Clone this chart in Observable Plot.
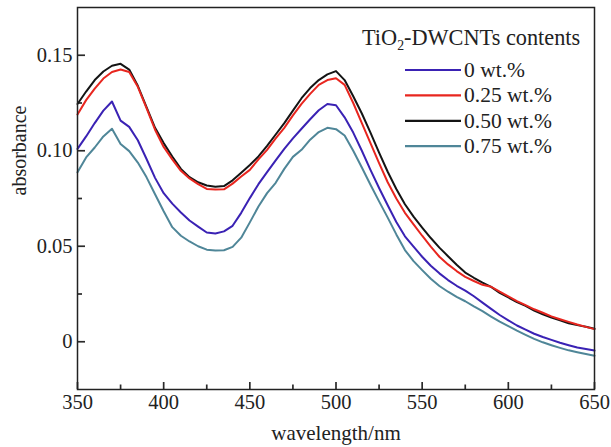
<!DOCTYPE html>
<html>
<head>
<meta charset="utf-8">
<script src="https://cdn.jsdelivr.net/npm/d3@7"></script>
<script src="https://cdn.jsdelivr.net/npm/@observablehq/plot@0.6"></script>
<style>
  body { margin: 0; background: #fff; }
  #wrap { position: relative; width: 611px; height: 447px; }
  #legend { position: absolute; left: 0; top: 0; pointer-events: none; }
  text { font-family: "Liberation Serif", "Times New Roman", serif; }
</style>
</head>
<body>
<div id="wrap"></div>
<script>
// ---- data ----
const wavelengths = [350,355,360,365,370,375,380,385,390,395,400,405,410,415,420,425,430,435,440,445,450,455,460,465,470,475,480,485,490,495,500,505,510,515,520,525,530,535,540,545,550,555,560,565,570,575,580,585,590,595,600,605,610,615,620,625,630,635,640,645,650];

const series0 = [0.101,0.1075,0.1145,0.121,0.1258,0.1158,0.1125,0.1055,0.0958,0.0858,0.0778,0.0723,0.0677,0.0635,0.0603,0.0572,0.0567,0.0578,0.0607,0.0675,0.0752,0.0825,0.0888,0.0950,0.1010,0.1065,0.1115,0.1165,0.1212,0.1245,0.1238,0.1175,0.1095,0.1000,0.0900,0.0805,0.0715,0.0627,0.0552,0.0498,0.0445,0.0398,0.0358,0.0323,0.0293,0.0268,0.0238,0.0205,0.0172,0.0140,0.0112,0.0085,0.0063,0.0042,0.0025,0.0010,-0.0005,-0.0018,-0.0030,-0.0038,-0.0046];

const series025 = [0.119,0.1265,0.1325,0.1378,0.1412,0.1425,0.1412,0.1335,0.1225,0.111,0.102,0.0955,0.0895,0.0855,0.0825,0.0800,0.0797,0.0798,0.0828,0.0865,0.0900,0.0955,0.1005,0.1065,0.1120,0.1185,0.1245,0.1298,0.1345,0.1370,0.1380,0.1345,0.1250,0.1145,0.1040,0.0935,0.0835,0.0750,0.0675,0.0615,0.0555,0.0498,0.0445,0.0405,0.0370,0.0340,0.0318,0.0298,0.0288,0.0262,0.0238,0.0213,0.0192,0.0170,0.0152,0.0133,0.0118,0.0104,0.0090,0.0078,0.0066];

const series050 = [0.1245,0.131,0.137,0.1415,0.1445,0.1455,0.1425,0.134,0.123,0.112,0.104,0.097,0.0905,0.0862,0.0835,0.0818,0.0812,0.0815,0.0845,0.0885,0.0925,0.0970,0.1025,0.1085,0.1145,0.1210,0.1275,0.1328,0.1370,0.1400,0.1417,0.1370,0.1285,0.1195,0.1095,0.0990,0.0890,0.0800,0.0720,0.0655,0.0598,0.0543,0.0493,0.0448,0.0403,0.0362,0.0335,0.0310,0.0287,0.0256,0.0232,0.0208,0.0188,0.0163,0.0144,0.0127,0.0112,0.0097,0.0087,0.0078,0.0068];

const series075 = [0.0887,0.0965,0.1017,0.1075,0.1115,0.1035,0.0998,0.0938,0.0862,0.0772,0.0683,0.0600,0.0555,0.0525,0.0500,0.0482,0.0478,0.0479,0.0497,0.0545,0.0625,0.0708,0.0778,0.0832,0.0905,0.0968,0.1005,0.1058,0.1098,0.1120,0.1113,0.1080,0.1000,0.0912,0.0822,0.0735,0.0650,0.0562,0.0480,0.0422,0.0375,0.0330,0.0292,0.0262,0.0235,0.0212,0.0185,0.0160,0.0132,0.0105,0.0082,0.0058,0.0036,0.0015,-0.0003,-0.0018,-0.0032,-0.0045,-0.0055,-0.0064,-0.0073];

const seriesNames = ["0 wt.%", "0.25 wt.%", "0.50 wt.%", "0.75 wt.%"];
const seriesColors = ["#3a22b4", "#e8261f", "#141414", "#4f8698"];
const seriesValues = [series0, series025, series050, series075];
const drawOrder = [3, 0, 2, 1];

const xMajorTicks = [350,400,450,500,550,600,650];
const xMinorTicks = [375,425,475,525,575,625];
const yMajorTicks = [0, 0.05, 0.10, 0.15];
const yMinorTicks = [0.025, 0.075, 0.125];
const yTickLabels = ["0", "0.05", "0.10", "0.15"];

const xLabel = "wavelength/nm";
const yLabel = "absorbance";
const legendTitle = ["TiO", "2", "-DWCNTs contents"];

// ---- chart ----
const W = 611, H = 447;
const mL = 77, mR = 17, mT = 7, mB = 58;
const plotW = W - mL - mR, plotH = H - mT - mB;
const xDom = [350, 650], yDom = [-0.025, 0.175];
const font = '"Liberation Serif", "Times New Roman", serif';
// tick lengths in pixels, converted to data units via the domain span
const yPerPx = (yDom[1] - yDom[0]) / plotH;
const xPerPx = (xDom[1] - xDom[0]) / plotW;

const rows = [];
drawOrder.forEach(i => {
  wavelengths.forEach((w, k) => rows.push({w, v: seriesValues[i][k], s: seriesNames[i]}));
});

const chart = Plot.plot({
  width: W, height: H,
  marginLeft: mL, marginRight: mR, marginTop: mT, marginBottom: mB,
  style: {fontFamily: font, fontSize: "20.5px", color: "#222", background: "#fff"},
  x: {domain: xDom},
  y: {domain: yDom},
  color: {domain: seriesNames, range: seriesColors},
  marks: [
    Plot.axisX({ticks: xMajorTicks, tickSize: 0, tickPadding: 5, tickFormat: d => String(d), label: null, fill: "#222"}),
    Plot.axisY({ticks: yMajorTicks, tickSize: 0, tickPadding: 5, tickFormat: d => yTickLabels[yMajorTicks.indexOf(d)], label: null, fill: "#222"}),
    Plot.ruleX(xMajorTicks, {x: d => d, y1: yDom[0], y2: yDom[0] + 7 * yPerPx, stroke: "#2a2a2a", strokeWidth: 1.7}),
    Plot.ruleX(xMinorTicks, {x: d => d, y1: yDom[0], y2: yDom[0] + 4.5 * yPerPx, stroke: "#2a2a2a", strokeWidth: 1.7}),
    Plot.ruleY(yMajorTicks, {y: d => d, x1: xDom[0], x2: xDom[0] + 8 * xPerPx, stroke: "#2a2a2a", strokeWidth: 1.7}),
    Plot.ruleY(yMinorTicks, {y: d => d, x1: xDom[0], x2: xDom[0] + 5 * xPerPx, stroke: "#2a2a2a", strokeWidth: 1.7}),
    Plot.line(rows, {x: "w", y: "v", z: "s", stroke: "s", strokeWidth: 2, curve: "linear"}),
    Plot.frame({stroke: "#222", strokeWidth: 1.5}),
    Plot.text([xLabel], {frameAnchor: "bottom", dy: 50, fontSize: 21, fill: "#222"}),
    Plot.text([yLabel], {frameAnchor: "left", rotate: -90, dx: -58, dy: -3, fontSize: 20, fill: "#222"})
  ]
});

const wrap = document.getElementById("wrap");
wrap.appendChild(chart);

// ---- legend overlay ----
const ns = "http://www.w3.org/2000/svg";
const leg = document.createElementNS(ns, "svg");
leg.setAttribute("id", "legend");
leg.setAttribute("width", W);
leg.setAttribute("height", H);
const lfs = 21.5;
const title = document.createElementNS(ns, "text");
title.setAttribute("x", 362);
title.setAttribute("y", 45);
title.setAttribute("font-size", 22.3);
title.setAttribute("fill", "#222");
title.setAttribute("font-family", font);
const t1 = document.createElementNS(ns, "tspan"); t1.textContent = legendTitle[0];
const t2 = document.createElementNS(ns, "tspan"); t2.textContent = legendTitle[1];
t2.setAttribute("font-size", 22.3 * 0.62); t2.setAttribute("dy", 5);
const t3 = document.createElementNS(ns, "tspan"); t3.textContent = legendTitle[2];
t3.setAttribute("dy", -5);
title.append(t1, t2, t3);
leg.appendChild(title);
seriesNames.forEach((name, i) => {
  const y = 70 + i * 25.4;
  const ln = document.createElementNS(ns, "line");
  ln.setAttribute("x1", 405); ln.setAttribute("x2", 461);
  ln.setAttribute("y1", y); ln.setAttribute("y2", y);
  ln.setAttribute("stroke", seriesColors[i]); ln.setAttribute("stroke-width", 2.2);
  leg.appendChild(ln);
  const tx = document.createElementNS(ns, "text");
  tx.setAttribute("x", 464); tx.setAttribute("y", y + 7);
  tx.setAttribute("font-size", lfs); tx.setAttribute("fill", "#222");
  tx.setAttribute("font-family", font);
  tx.textContent = name;
  leg.appendChild(tx);
});
wrap.appendChild(leg);
</script>
</body>
</html>
